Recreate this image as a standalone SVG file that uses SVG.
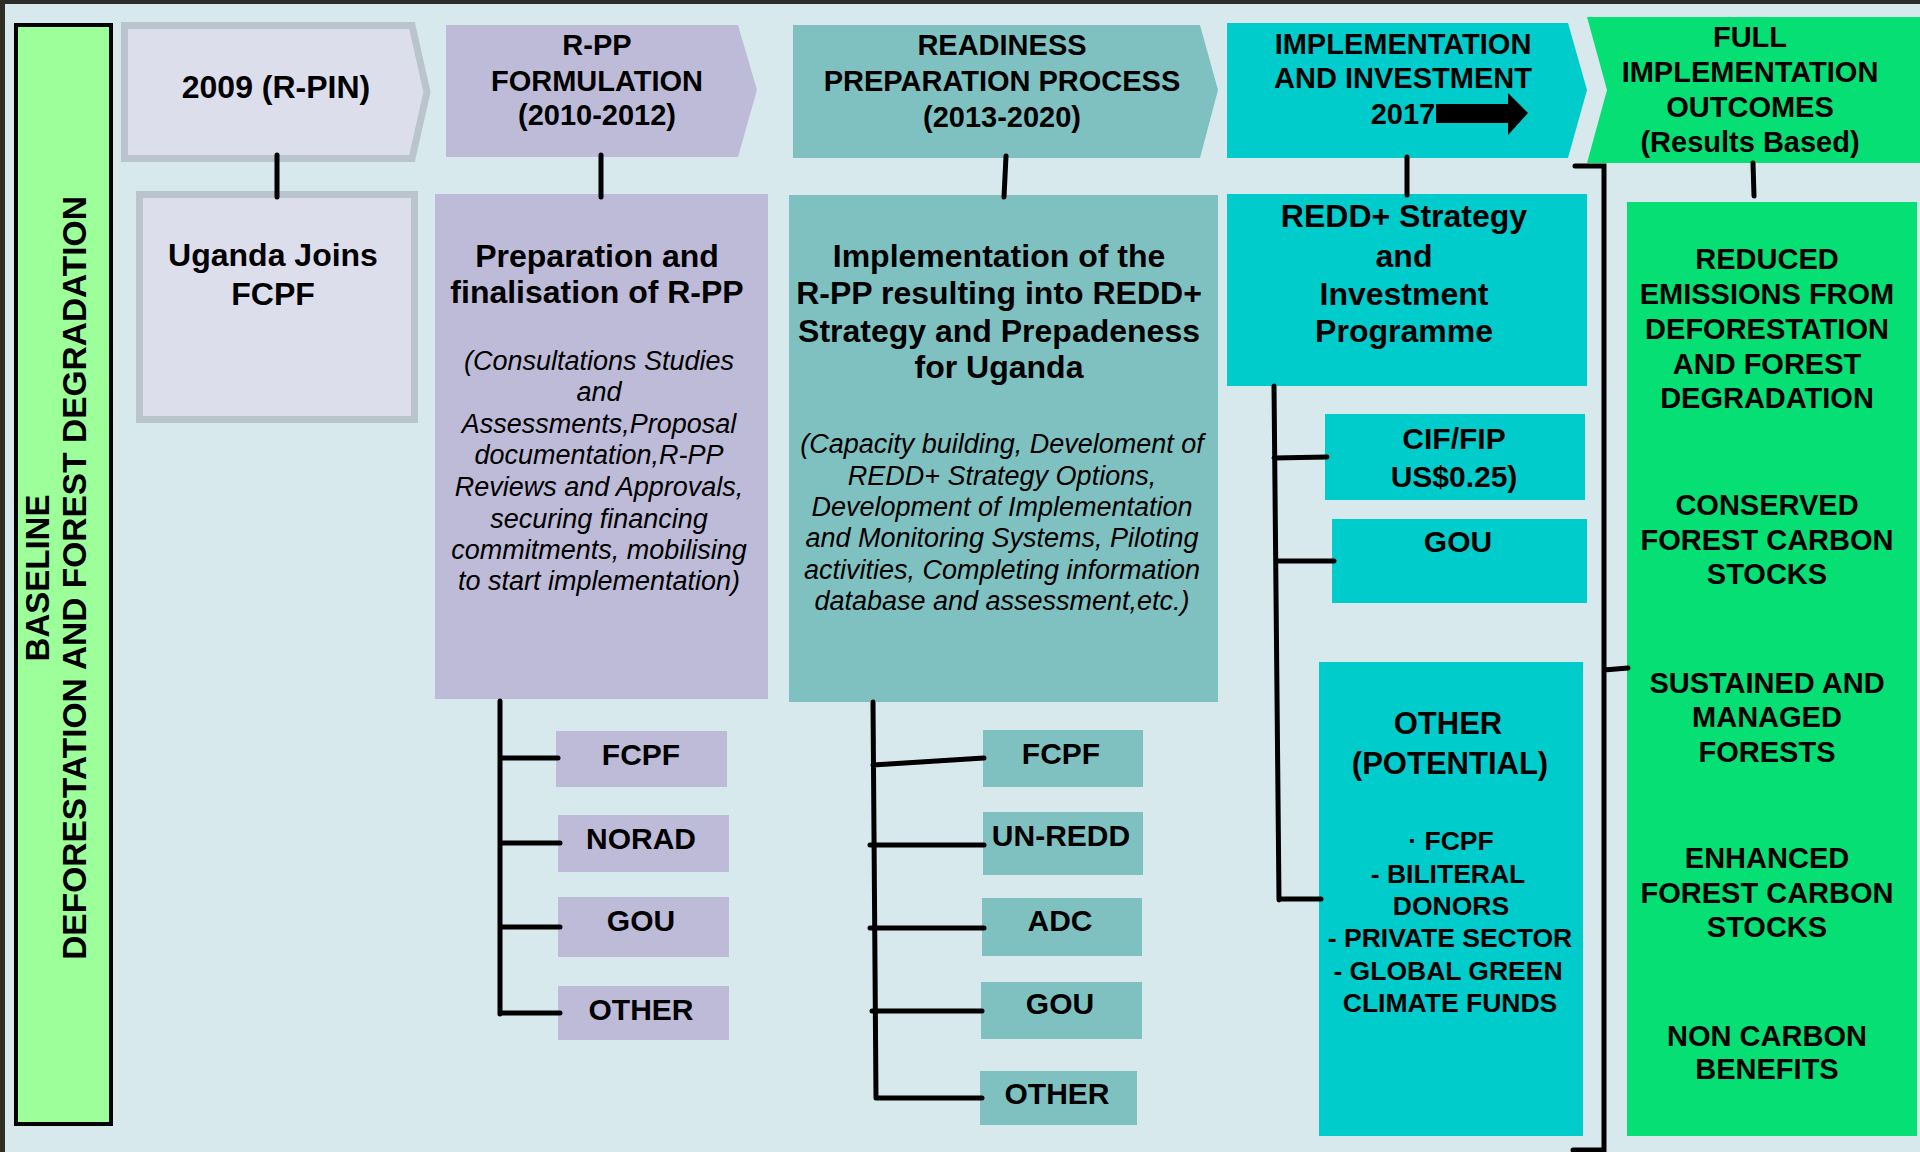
<svg xmlns="http://www.w3.org/2000/svg" width="1920" height="1152" viewBox="0 0 1920 1152">
<style>
.t{font-family:"Liberation Sans",Arial,sans-serif;font-weight:bold;text-anchor:middle;fill:#000}
.it{font-family:"Liberation Sans",Arial,sans-serif;font-style:italic;text-anchor:middle;fill:#000;font-size:27px}
.h{font-size:29px}
.big{font-size:32px}
.fund{font-size:30px}
.ln{stroke:#000;stroke-width:5;stroke-linecap:round;fill:none}
.lav{fill:#bebbd8}
.teal{fill:#7fc1c0}
.cyan{fill:#00cccc}
.grn{fill:#05df74}
.gray{fill:#dcdeec;stroke:#bac4cc;stroke-width:7}
</style>
<rect x="0" y="0" width="1920" height="1152" fill="#d8e9ee"/>
<rect x="0" y="0" width="1920" height="4" fill="#2b2b2b"/>
<rect x="0" y="0" width="5" height="1152" fill="#2e2e24"/>

<g id="baseline">
<rect x="16" y="25" width="95" height="1099" fill="#9cff99" stroke="#000" stroke-width="4"/>
<text class="t" font-size="33" transform="translate(49,578) rotate(-90)">BASELINE</text>
<text class="t" font-size="33.5" transform="translate(86,578) rotate(-90)">DEFORESTATION AND FOREST DEGRADATION</text>
</g>

<g id="h2009">
<polygon class="gray" points="124.5,25.5 412,25.5 427,92 412,158.5 124.5,158.5"/>
<text class="t big" x="276" y="98">2009 (R-PIN)</text>
</g>
<g id="hrpp">
<polygon class="lav" points="446,25 738,25 757,90 738,157 446,157"/>
<text class="t h" x="597" y="55">R-PP</text>
<text class="t h" x="597" y="91">FORMULATION</text>
<text class="t h" x="597" y="125">(2010-2012)</text>
</g>
<g id="hready">
<polygon class="teal" points="793,25 1200,25 1218,90 1200,158 793,158"/>
<text class="t h" x="1002" y="55">READINESS</text>
<text class="t h" x="1002" y="91">PREPARATION PROCESS</text>
<text class="t h" x="1002" y="127">(2013-2020)</text>
</g>
<g id="himpl">
<polygon class="cyan" points="1227,23 1568,23 1587,90 1568,158 1227,158"/>
<text class="t h" x="1403" y="54">IMPLEMENTATION</text>
<text class="t h" x="1403" y="88">AND INVESTMENT</text>
<text class="t h" x="1403" y="124">2017</text>
<polygon fill="#000" points="1436,104 1508,104 1508,93 1528,113 1508,135 1508,123 1436,123"/>
</g>
<g id="hfull">
<polygon class="grn" points="1587,17 1920,17 1920,163 1587,163 1607,90"/>
<text class="t h" x="1750" y="47">FULL</text>
<text class="t h" x="1750" y="82">IMPLEMENTATION</text>
<text class="t h" x="1750" y="117">OUTCOMES</text>
<text class="t h" x="1750" y="152">(Results Based)</text>
</g>

<g id="uganda">
<rect class="gray" x="139.5" y="194.5" width="275" height="225"/>
<text class="t big" x="273" y="266">Uganda Joins</text>
<text class="t big" x="273" y="305">FCPF</text>
</g>
<g id="prep">
<rect class="lav" x="435" y="194" width="333" height="505"/>
<text class="t big" x="597" y="267">Preparation and</text>
<text class="t big" x="597" y="303">finalisation of R-PP</text>
<text class="it" x="599" y="370">(Consultations Studies</text>
<text class="it" x="599" y="401">and</text>
<text class="it" x="599" y="433">Assessments,Proposal</text>
<text class="it" x="599" y="464">documentation,R-PP</text>
<text class="it" x="599" y="496">Reviews and Approvals,</text>
<text class="it" x="599" y="528">securing financing</text>
<text class="it" x="599" y="559">commitments, mobilising</text>
<text class="it" x="599" y="590">to start implementation)</text>
</g>
<g id="implrpp">
<rect class="teal" x="789" y="195" width="429" height="507"/>
<text class="t big" x="999" y="267">Implementation of the</text>
<text class="t big" x="999" y="304">R-PP resulting into REDD+</text>
<text class="t big" x="999" y="342">Strategy and Prepadeness</text>
<text class="t big" x="999" y="378">for Uganda</text>
<text class="it" x="1002" y="453">(Capacity building, Develoment of</text>
<text class="it" x="1002" y="485">REDD+ Strategy Options,</text>
<text class="it" x="1002" y="516">Development of Implementation</text>
<text class="it" x="1002" y="547">and Monitoring Systems, Piloting</text>
<text class="it" x="1002" y="579">activities, Completing information</text>
<text class="it" x="1002" y="610">database and assessment,etc.)</text>
</g>
<g id="strategy">
<rect class="cyan" x="1227" y="194" width="360" height="192"/>
<text class="t big" x="1404" y="227">REDD+ Strategy</text>
<text class="t big" x="1404" y="267">and</text>
<text class="t big" x="1404" y="305">Investment</text>
<text class="t big" x="1404" y="342">Programme</text>
</g>

<g id="rpp-fcpf"><rect class="lav" x="556" y="731" width="171" height="56"/><text class="t fund" x="641" y="765">FCPF</text></g>
<g id="rpp-norad"><rect class="lav" x="558" y="815" width="171" height="57"/><text class="t fund" x="641" y="849">NORAD</text></g>
<g id="rpp-gou"><rect class="lav" x="558" y="897" width="171" height="60"/><text class="t fund" x="641" y="931">GOU</text></g>
<g id="rpp-other"><rect class="lav" x="558" y="986" width="171" height="54"/><text class="t fund" x="641" y="1020">OTHER</text></g>

<g id="rd-fcpf"><rect class="teal" x="983" y="730" width="160" height="57"/><text class="t fund" x="1061" y="764">FCPF</text></g>
<g id="rd-unredd"><rect class="teal" x="983" y="812" width="160" height="63"/><text class="t fund" x="1061" y="846">UN-REDD</text></g>
<g id="rd-adc"><rect class="teal" x="982" y="898" width="160" height="58"/><text class="t fund" x="1060" y="931">ADC</text></g>
<g id="rd-gou"><rect class="teal" x="981" y="982" width="161" height="57"/><text class="t fund" x="1060" y="1014">GOU</text></g>
<g id="rd-other"><rect class="teal" x="980" y="1071" width="157" height="54"/><text class="t fund" x="1057" y="1104">OTHER</text></g>

<g id="cif"><rect class="cyan" x="1325" y="414" width="260" height="86"/><text class="t fund" x="1454" y="449">CIF/FIP</text><text class="t fund" x="1454" y="487">US$0.25)</text></g>
<g id="gou-impl"><rect class="cyan" x="1332" y="519" width="255" height="84"/><text class="t fund" x="1458" y="552">GOU</text></g>
<g id="other-pot">
<rect class="cyan" x="1319" y="662" width="264" height="474"/>
<text class="t" font-size="31" x="1448" y="734">OTHER</text>
<text class="t" font-size="31" x="1450" y="774">(POTENTIAL)</text>
<text class="t" font-size="26.5" x="1451" y="850">· FCPF</text>
<text class="t" font-size="26.5" x="1448" y="883">- BILITERAL</text>
<text class="t" font-size="26.5" x="1451" y="915">DONORS</text>
<text class="t" font-size="26.5" x="1450" y="947">- PRIVATE SECTOR</text>
<text class="t" font-size="26.5" x="1448" y="980">- GLOBAL GREEN</text>
<text class="t" font-size="26.5" x="1450" y="1012">CLIMATE FUNDS</text>
</g>

<g id="outcomes">
<rect class="grn" x="1627" y="202" width="290" height="934"/>
<text class="t h" x="1767" y="269">REDUCED</text>
<text class="t h" x="1767" y="304">EMISSIONS FROM</text>
<text class="t h" x="1767" y="339">DEFORESTATION</text>
<text class="t h" x="1767" y="374">AND FOREST</text>
<text class="t h" x="1767" y="408">DEGRADATION</text>
<text class="t h" x="1767" y="515">CONSERVED</text>
<text class="t h" x="1767" y="550">FOREST CARBON</text>
<text class="t h" x="1767" y="584">STOCKS</text>
<text class="t h" x="1767" y="693">SUSTAINED AND</text>
<text class="t h" x="1767" y="727">MANAGED</text>
<text class="t h" x="1767" y="762">FORESTS</text>
<text class="t h" x="1767" y="868">ENHANCED</text>
<text class="t h" x="1767" y="903">FOREST CARBON</text>
<text class="t h" x="1767" y="937">STOCKS</text>
<text class="t h" x="1767" y="1046">NON CARBON</text>
<text class="t h" x="1767" y="1079">BENEFITS</text>
</g>

<g id="connectors">
<line class="ln" x1="277" y1="155" x2="277" y2="197"/>
<line class="ln" x1="601" y1="155" x2="601" y2="197"/>
<line class="ln" x1="1006" y1="156" x2="1004" y2="197"/>
<line class="ln" x1="1407" y1="157" x2="1407" y2="195"/>
<line class="ln" x1="1753" y1="163" x2="1754" y2="196"/>
<path class="ln" d="M500,701 V1014 M500,758 H558 M500,843 H560 M500,927 H560 M500,1013 H560"/>
<path class="ln" d="M873,702 L876,1098 M873,765 L984,758 M870,845 H984 M870,928 H984 M872,1011 H982 M876,1098 H982"/>
<path class="ln" d="M1274,386 L1279,900 M1274,458 L1327,457 M1277,561 H1334 M1279,899 H1321"/>
<path class="ln" d="M1575,166 H1604 V1150 H1573 M1604,670 L1628,668"/>
</g>
</svg>
